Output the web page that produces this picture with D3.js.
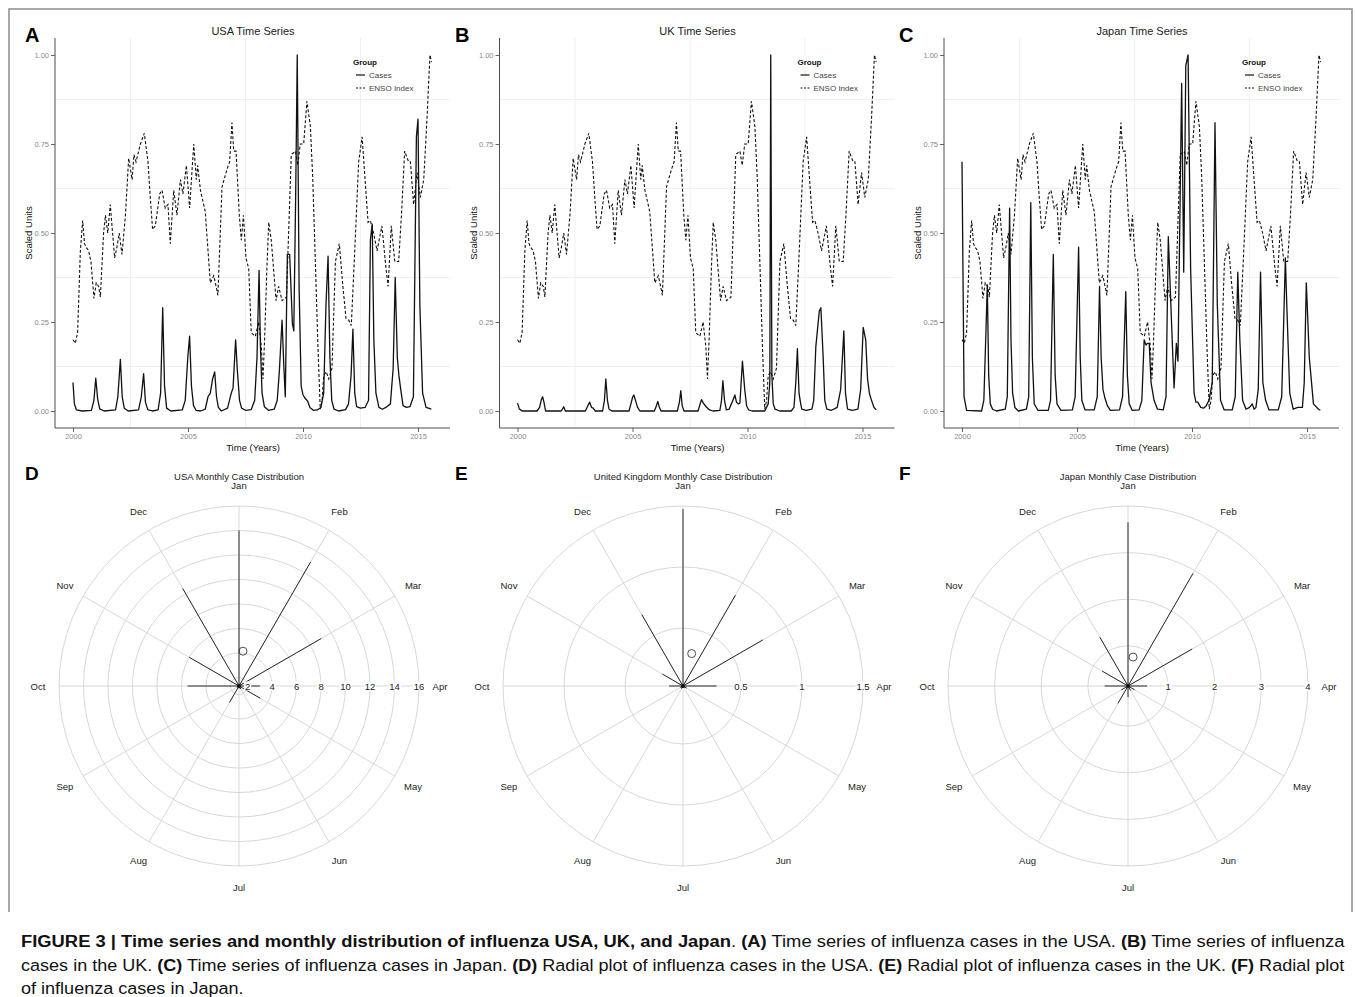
<!DOCTYPE html>
<html>
<head>
<meta charset="utf-8">
<script src="https://cdn.jsdelivr.net/npm/d3@7"></script>
<style>
  body { margin: 0; background: #fff; }
  svg text { font-family: "Liberation Sans", Arial, Helvetica, sans-serif; }
</style>
</head>
<body>
<svg id="fig" width="1355" height="997"></svg>
<script>
// Data
// ==============================
var months = ["Jan", "Feb", "Mar", "Apr", "May", "Jun", "Jul", "Aug", "Sep", "Oct", "Nov", "Dec"];
var yTicks = [0, 0.25, 0.5, 0.75, 1];
var yMinor = [0.125, 0.375, 0.625, 0.875];
var xTicks = [2000, 2005, 2010, 2015];
var xMinor = [2002.5, 2007.5, 2012.5];

// [year, scaled value]
var ensoIndex = [[2000.00,0.20],[2000.10,0.19],[2000.20,0.22],[2000.32,0.45],[2000.42,0.535],[2000.50,0.47],[2000.57,0.46],[2000.68,0.45],[2000.78,0.42],[2000.91,0.316],[2001.01,0.36],[2001.12,0.35],[2001.19,0.32],[2001.33,0.50],[2001.41,0.55],[2001.51,0.50],[2001.62,0.58],[2001.81,0.43],[2001.91,0.46],[2002.01,0.50],[2002.13,0.44],[2002.28,0.55],[2002.42,0.71],[2002.57,0.65],[2002.65,0.72],[2002.74,0.70],[2002.93,0.75],[2003.10,0.78],[2003.26,0.70],[2003.36,0.60],[2003.46,0.51],[2003.58,0.52],[2003.77,0.61],[2003.87,0.62],[2004.01,0.57],[2004.13,0.58],[2004.23,0.47],[2004.38,0.62],[2004.52,0.55],[2004.67,0.65],[2004.78,0.61],[2004.93,0.69],[2005.07,0.57],[2005.25,0.75],[2005.36,0.65],[2005.42,0.69],[2005.54,0.62],[2005.75,0.56],[2005.97,0.36],[2006.12,0.38],[2006.19,0.36],[2006.30,0.325],[2006.48,0.63],[2006.70,0.68],[2006.81,0.70],[2006.91,0.81],[2006.99,0.73],[2007.09,0.73],[2007.23,0.55],[2007.32,0.48],[2007.41,0.55],[2007.52,0.43],[2007.64,0.40],[2007.75,0.22],[2007.93,0.21],[2008.07,0.25],[2008.19,0.18],[2008.26,0.09],[2008.33,0.20],[2008.43,0.40],[2008.51,0.53],[2008.62,0.48],[2008.83,0.31],[2008.94,0.35],[2009.09,0.31],[2009.28,0.32],[2009.49,0.72],[2009.67,0.73],[2009.77,0.69],[2009.88,0.75],[2010.03,0.75],[2010.17,0.87],[2010.32,0.80],[2010.42,0.66],[2010.57,0.35],[2010.65,0.18],[2010.75,0.005],[2010.83,0.03],[2010.90,0.10],[2011.01,0.11],[2011.12,0.09],[2011.26,0.12],[2011.41,0.42],[2011.58,0.47],[2011.72,0.36],[2011.87,0.26],[2011.99,0.255],[2012.10,0.24],[2012.25,0.45],[2012.42,0.70],[2012.57,0.77],[2012.71,0.64],[2012.83,0.53],[2012.93,0.535],[2013.07,0.50],[2013.22,0.45],[2013.43,0.52],[2013.61,0.40],[2013.70,0.35],[2013.84,0.52],[2013.99,0.42],[2014.16,0.42],[2014.28,0.55],[2014.42,0.73],[2014.59,0.70],[2014.67,0.70],[2014.81,0.58],[2014.96,0.67],[2015.10,0.60],[2015.25,0.65],[2015.39,0.82],[2015.52,1.00],[2015.59,0.98]];

var usaCases = [[2000.00,0.080],[2000.06,0.020],[2000.15,0.003],[2000.40,0.000],[2000.80,0.002],[2000.91,0.030],[2000.99,0.092],[2001.07,0.035],[2001.16,0.006],[2001.35,0.000],[2001.85,0.003],[2001.95,0.040],[2002.06,0.145],[2002.14,0.040],[2002.23,0.008],[2002.40,0.000],[2002.85,0.003],[2002.97,0.040],[2003.07,0.105],[2003.15,0.025],[2003.25,0.004],[2003.45,0.000],[2003.70,0.003],[2003.81,0.050],[2003.90,0.290],[2003.98,0.070],[2004.07,0.008],[2004.25,0.000],[2004.75,0.003],[2004.88,0.030],[2004.99,0.150],[2005.07,0.210],[2005.15,0.070],[2005.24,0.015],[2005.35,0.002],[2005.55,0.000],[2005.75,0.005],[2005.87,0.040],[2005.97,0.050],[2006.07,0.090],[2006.16,0.110],[2006.24,0.040],[2006.32,0.010],[2006.45,0.000],[2006.72,0.008],[2006.88,0.050],[2006.96,0.065],[2007.07,0.200],[2007.15,0.110],[2007.24,0.030],[2007.33,0.008],[2007.50,0.002],[2007.75,0.004],[2007.90,0.030],[2008.00,0.150],[2008.09,0.395],[2008.15,0.180],[2008.22,0.050],[2008.32,0.012],[2008.50,0.002],[2008.75,0.005],[2008.88,0.030],[2008.97,0.110],[2009.09,0.255],[2009.17,0.120],[2009.23,0.040],[2009.32,0.440],[2009.42,0.440],[2009.54,0.245],[2009.60,0.225],[2009.68,0.600],[2009.75,1.000],[2009.83,0.350],[2009.92,0.070],[2010.00,0.045],[2010.10,0.035],[2010.20,0.028],[2010.30,0.010],[2010.45,0.002],[2010.62,0.003],[2010.78,0.010],[2010.90,0.050],[2011.00,0.300],[2011.09,0.435],[2011.17,0.150],[2011.25,0.030],[2011.35,0.005],[2011.55,0.000],[2011.85,0.004],[2011.98,0.020],[2012.09,0.100],[2012.17,0.230],[2012.25,0.050],[2012.33,0.012],[2012.50,0.008],[2012.70,0.010],[2012.85,0.030],[2012.93,0.480],[2013.01,0.525],[2013.08,0.200],[2013.17,0.050],[2013.30,0.010],[2013.45,0.005],[2013.60,0.010],[2013.80,0.020],[2013.92,0.120],[2014.01,0.375],[2014.10,0.150],[2014.17,0.100],[2014.25,0.060],[2014.35,0.015],[2014.50,0.010],[2014.65,0.012],[2014.80,0.040],[2014.93,0.770],[2015.00,0.820],[2015.08,0.300],[2015.20,0.050],[2015.35,0.010],[2015.58,0.005]];

var ukCases = [[2000.00,0.022],[2000.08,0.006],[2000.20,0.000],[2000.85,0.000],[2000.96,0.010],[2001.03,0.030],[2001.09,0.040],[2001.15,0.025],[2001.22,0.000],[2001.90,0.000],[2002.01,0.012],[2002.08,0.000],[2002.95,0.000],[2003.06,0.015],[2003.14,0.025],[2003.22,0.010],[2003.29,0.008],[2003.38,0.000],[2003.70,0.000],[2003.78,0.030],[2003.84,0.090],[2003.91,0.030],[2003.98,0.005],[2004.10,0.000],[2004.85,0.000],[2004.95,0.025],[2005.01,0.040],[2005.06,0.045],[2005.13,0.030],[2005.22,0.010],[2005.32,0.000],[2005.95,0.000],[2006.04,0.015],[2006.10,0.027],[2006.16,0.012],[2006.24,0.000],[2006.95,0.000],[2007.04,0.025],[2007.10,0.057],[2007.16,0.015],[2007.24,0.000],[2007.85,0.000],[2007.94,0.020],[2008.00,0.032],[2008.08,0.022],[2008.20,0.012],[2008.35,0.003],[2008.50,0.000],[2008.80,0.002],[2008.87,0.030],[2008.93,0.085],[2009.00,0.030],[2009.08,0.003],[2009.20,0.005],[2009.30,0.020],[2009.38,0.032],[2009.45,0.045],[2009.52,0.025],[2009.59,0.020],[2009.67,0.022],[2009.78,0.140],[2009.88,0.060],[2009.96,0.015],[2010.05,0.003],[2010.20,0.000],[2010.75,0.000],[2010.90,0.020],[2010.97,0.080],[2011.01,1.000],[2011.06,0.100],[2011.12,0.020],[2011.20,0.005],[2011.40,0.000],[2011.90,0.000],[2012.02,0.010],[2012.10,0.080],[2012.17,0.175],[2012.24,0.050],[2012.30,0.025],[2012.36,0.005],[2012.55,0.002],[2012.80,0.005],[2012.88,0.030],[2012.97,0.180],[2013.12,0.280],[2013.19,0.290],[2013.29,0.150],[2013.36,0.030],[2013.45,0.005],[2013.65,0.002],[2013.90,0.010],[2014.05,0.060],[2014.19,0.225],[2014.26,0.050],[2014.35,0.005],[2014.55,0.002],[2014.80,0.005],[2014.92,0.060],[2015.03,0.235],[2015.14,0.200],[2015.22,0.090],[2015.30,0.050],[2015.39,0.030],[2015.50,0.010],[2015.60,0.003]];

var japanCases = [[2000.00,0.700],[2000.09,0.040],[2000.20,0.002],[2000.85,0.000],[2000.95,0.030],[2001.03,0.200],[2001.10,0.354],[2001.16,0.100],[2001.23,0.020],[2001.33,0.005],[2001.50,0.000],[2001.88,0.005],[2001.97,0.040],[2002.07,0.570],[2002.13,0.200],[2002.20,0.050],[2002.30,0.010],[2002.45,0.000],[2002.80,0.005],[2002.90,0.040],[2002.99,0.585],[2003.06,0.150],[2003.14,0.020],[2003.30,0.002],[2003.75,0.002],[2003.85,0.030],[2003.97,0.440],[2004.05,0.100],[2004.13,0.020],[2004.30,0.002],[2004.80,0.003],[2004.92,0.040],[2005.07,0.460],[2005.14,0.150],[2005.21,0.030],[2005.35,0.003],[2005.75,0.003],[2005.88,0.040],[2005.98,0.350],[2006.05,0.150],[2006.13,0.060],[2006.22,0.035],[2006.32,0.015],[2006.45,0.002],[2006.85,0.003],[2006.98,0.040],[2007.12,0.335],[2007.19,0.100],[2007.27,0.020],[2007.40,0.002],[2007.70,0.003],[2007.82,0.030],[2007.92,0.200],[2008.00,0.185],[2008.06,0.190],[2008.14,0.190],[2008.22,0.080],[2008.35,0.030],[2008.50,0.005],[2008.75,0.003],[2008.87,0.040],[2008.97,0.490],[2009.08,0.300],[2009.22,0.065],[2009.32,0.190],[2009.39,0.140],[2009.55,0.920],[2009.64,0.390],[2009.73,0.970],[2009.83,1.000],[2009.94,0.400],[2010.09,0.050],[2010.17,0.025],[2010.25,0.025],[2010.38,0.010],[2010.50,0.008],[2010.62,0.015],[2010.74,0.030],[2010.88,0.080],[2011.00,0.810],[2011.10,0.300],[2011.24,0.030],[2011.40,0.003],[2011.75,0.003],[2011.88,0.040],[2011.99,0.390],[2012.08,0.200],[2012.20,0.030],[2012.35,0.005],[2012.50,0.010],[2012.62,0.020],[2012.70,0.005],[2012.78,0.010],[2012.88,0.060],[2012.98,0.390],[2013.08,0.080],[2013.20,0.030],[2013.35,0.003],[2013.75,0.003],[2013.90,0.040],[2014.06,0.430],[2014.12,0.300],[2014.25,0.050],[2014.40,0.005],[2014.60,0.010],[2014.80,0.010],[2014.88,0.080],[2014.97,0.360],[2015.10,0.150],[2015.28,0.020],[2015.50,0.005],[2015.58,0.002]];

// monthly case distribution (Jan..Dec)
var usaMonthly = [14.0, 13.0, 9.05, 3.0, 3.3, 1.6, 1.5, 2.85, 1.5, 5.5, 6.0, 10.5];
var ukMonthly = [1.475, 0.885, 0.78, 0.30, 0.06, 0.04, 0.04, 0.05, 0.05, 0.14, 0.22, 0.70];
var japanMonthly = [3.65, 2.93, 1.73, 0.55, 0.30, 0.25, 0.38, 0.57, 0.30, 0.64, 0.78, 1.35];
var usaRings = [2, 4, 6, 8, 10, 12, 14, 16];
var ukRings = [0.5, 1, 1.5];
var japanRings = [1, 2, 3, 4];
var usaRadialMin = 1.3, ukRadialMin = 0.025, japanRadialMin = 0.14;
// [month position, value] of the open circle marker
var usaMean = [0.22, 4.16];
var ukMean = [0.5, 0.30];
var japanMean = [0.33, 0.77];

var svg = d3.select("#fig");

// figure frame (top, left and right edges only)
svg.append("path")
  .attr("d", "M9,912 V9 H1352 V912")
  .attr("fill", "none")
  .attr("stroke", "#8c8c8c")
  .attr("stroke-width", 1.5);

// Time series panels
// ==============================
function drawSeries(ox, letter, title, cases) {
  var g = svg.append("g").attr("transform", `translate(${ox}, 0)`);
  var x = d3.scaleLinear().domain([2000, 2015]).range([73, 418]);
  var y = d3.scaleLinear().domain([0, 1]).range([411, 55]);

  g.selectAll("line.gy").data(yMinor).enter().append("line")
    .attr("x1", 55).attr("x2", 450)
    .attr("y1", d => y(d)).attr("y2", d => y(d))
    .attr("stroke", "#f0f0f0");
  g.selectAll("line.gx").data(xMinor).enter().append("line")
    .attr("y1", 38).attr("y2", 428)
    .attr("x1", d => x(d)).attr("x2", d => x(d))
    .attr("stroke", "#f0f0f0");

  var leftAxis = g.append("g")
    .attr("transform", "translate(55, 0)")
    .call(d3.axisLeft(y).tickValues(yTicks).tickFormat(d3.format(".2f")).tickSize(4).tickPadding(2));
  var bottomAxis = g.append("g")
    .attr("transform", "translate(0, 428)")
    .call(d3.axisBottom(x).tickValues(xTicks).tickFormat(d3.format("d")).tickSize(4).tickPadding(2));
  [leftAxis, bottomAxis].forEach(function(a) {
    a.select(".domain").remove();
    a.attr("font-family", null).attr("font-size", null);
    a.selectAll("line").attr("stroke", "#666");
    a.selectAll("text").attr("fill", "#8a8a8a").style("font-size", "7.5px");
  });

  g.append("line").attr("x1", 55).attr("x2", 55).attr("y1", 38).attr("y2", 428)
    .attr("stroke", "#4d4d4d");
  g.append("line").attr("x1", 55).attr("x2", 450).attr("y1", 428).attr("y2", 428)
    .attr("stroke", "#4d4d4d");

  var line = d3.line().x(d => x(d[0])).y(d => y(d[1]));

  g.append("path").datum(ensoIndex)
    .attr("d", line)
    .attr("fill", "none")
    .attr("stroke", "#111")
    .attr("stroke-width", 1.1)
    .attr("stroke-dasharray", "3,2");

  g.append("path").datum(cases)
    .attr("d", line)
    .attr("fill", "none")
    .attr("stroke", "#111")
    .attr("stroke-width", 1.3)
    .attr("stroke-linejoin", "round");

  // titles
  g.append("text").attr("x", 253).attr("y", 35)
    .attr("text-anchor", "middle").style("font-size", "11px").attr("fill", "#222")
    .text(title);
  g.append("text").attr("x", 253).attr("y", 451)
    .attr("text-anchor", "middle").style("font-size", "9.5px").attr("fill", "#111")
    .text("Time (Years)");
  g.append("text")
    .attr("transform", "translate(32, 233) rotate(-90)")
    .attr("text-anchor", "middle").style("font-size", "9.5px").attr("fill", "#111")
    .text("Scaled Units");

  // legend
  var lg = g.append("g").attr("transform", "translate(353, 0)");
  lg.append("text").attr("x", 0).attr("y", 65).style("font-size", "8px")
    .attr("font-weight", "bold").attr("fill", "#111").text("Group");
  lg.append("line").attr("x1", 3).attr("x2", 12).attr("y1", 75).attr("y2", 75)
    .attr("stroke", "#111").attr("stroke-width", 1.2);
  lg.append("line").attr("x1", 3).attr("x2", 12).attr("y1", 88).attr("y2", 88)
    .attr("stroke", "#111").attr("stroke-width", 1.1).attr("stroke-dasharray", "2,1.5");
  lg.append("text").attr("x", 16).attr("y", 78).style("font-size", "8px").attr("fill", "#444").text("Cases");
  lg.append("text").attr("x", 16).attr("y", 91).style("font-size", "8px").attr("fill", "#444").text("ENSO Index");

  svg.append("text").attr("x", letter[1]).attr("y", 42)
    .style("font-size", "20px").attr("font-weight", "bold").attr("fill", "#000")
    .text(letter[0]);
}

drawSeries(0, ["A", 25], "USA Time Series", usaCases);
drawSeries(444.5, ["B", 455], "UK Time Series", ukCases);
drawSeries(889, ["C", 899], "Japan Time Series", japanCases);

// Radial panels
// ==============================
function drawRadial(cx, letter, title, values, rings, rMin, mean) {
  var cy = 686, R = 180;
  var g = svg.append("g").attr("transform", `translate(${cx}, ${cy})`);
  var r = d3.scaleLinear().domain([rMin, rings[rings.length - 1]]).range([0, R]);
  var ang = d3.scaleLinear().domain([0, 12]).range([0, 2 * Math.PI]);

  g.selectAll("circle.ring").data(rings).enter().append("circle")
    .attr("r", d => r(d))
    .attr("fill", "none")
    .attr("stroke", "#d2d2d2")
    .attr("stroke-width", 0.9);

  g.selectAll("line.spoke").data(months).enter().append("line")
    .attr("x1", 0).attr("y1", 0)
    .attr("x2", (d, i) => d3.pointRadial(ang(i), R)[0])
    .attr("y2", (d, i) => d3.pointRadial(ang(i), R)[1])
    .attr("stroke", "#d2d2d2")
    .attr("stroke-width", 0.9);

  g.selectAll("line.val").data(values).enter().append("line")
    .attr("x1", 0).attr("y1", 0)
    .attr("x2", (d, i) => d3.pointRadial(ang(i), r(d))[0])
    .attr("y2", (d, i) => d3.pointRadial(ang(i), r(d))[1])
    .attr("stroke", "#2a2a2a")
    .attr("stroke-width", 1);

  var mp = d3.pointRadial(ang(mean[0]), r(mean[1]));
  g.append("circle").attr("cx", mp[0]).attr("cy", mp[1]).attr("r", 4)
    .attr("fill", "none").attr("stroke", "#222").attr("stroke-width", 0.8);
  g.append("circle").attr("r", 2).attr("fill", "#111");

  rings.forEach(function(v) {
    var t = g.append("text")
      .attr("x", r(v)).attr("y", 0)
      .attr("text-anchor", "middle").attr("dominant-baseline", "central")
      .style("font-size", "9.5px").attr("fill", "#222")
      .text(String(v));
    var bb = t.node().getBBox();
    g.insert("rect", function() { return t.node(); })
      .attr("x", bb.x - 1).attr("y", bb.y + 1)
      .attr("width", bb.width + 2).attr("height", bb.height - 2)
      .attr("fill", "#fff");
  });

  g.selectAll("text.month").data(months).enter().append("text")
    .attr("x", (d, i) => d3.pointRadial(ang(i), 201)[0])
    .attr("y", (d, i) => d3.pointRadial(ang(i), 201)[1])
    .attr("text-anchor", "middle").attr("dominant-baseline", "central")
    .style("font-size", "9.5px").attr("fill", "#222")
    .text(d => d);

  g.append("text").attr("x", 0).attr("y", -206)
    .attr("text-anchor", "middle").style("font-size", "9.5px").attr("fill", "#222")
    .text(title);

  svg.append("text").attr("x", letter[1]).attr("y", 480)
    .style("font-size", "19px").attr("font-weight", "bold").attr("fill", "#000")
    .text(letter[0]);
}

drawRadial(239, ["D", 25], "USA Monthly Case Distribution", usaMonthly, usaRings, usaRadialMin, usaMean);
drawRadial(683, ["E", 455], "United Kingdom Monthly Case Distribution", ukMonthly, ukRings, ukRadialMin, ukMean);
drawRadial(1128, ["F", 899], "Japan Monthly Case Distribution", japanMonthly, japanRings, japanRadialMin, japanMean);

// Caption
// ==============================
var captionLines = [
  [["FIGURE 3 | Time series and monthly distribution of influenza USA, UK, and Japan", 1], [". ", 0], ["(A)", 1], [" Time series of influenza cases in the USA. ", 0], ["(B)", 1], [" Time series of influenza", 0]],
  [["cases in the UK. ", 0], ["(C)", 1], [" Time series of influenza cases in Japan. ", 0], ["(D)", 1], [" Radial plot of influenza cases in the USA. ", 0], ["(E)", 1], [" Radial plot of influenza cases in the UK. ", 0], ["(F)", 1], [" Radial plot", 0]],
  [["of influenza cases in Japan.", 0]]
];
var captionY = [947, 971, 994];
var lastScale = 1;
captionLines.forEach(function(parts, i) {
  var cg = svg.append("g");
  var t = cg.append("text").attr("x", 0).attr("y", 0)
    .style("font-size", "17px").attr("fill", "#111");
  parts.forEach(function(p) {
    t.append("tspan").attr("font-weight", p[1] ? "bold" : "normal").text(p[0]);
  });
  var w = t.node().getComputedTextLength();
  var s = i < 2 ? 1325 / w : lastScale;
  lastScale = s;
  cg.attr("transform", `translate(21, ${captionY[i]}) scale(${s}, 1)`);
});
</script>
</body>
</html>
